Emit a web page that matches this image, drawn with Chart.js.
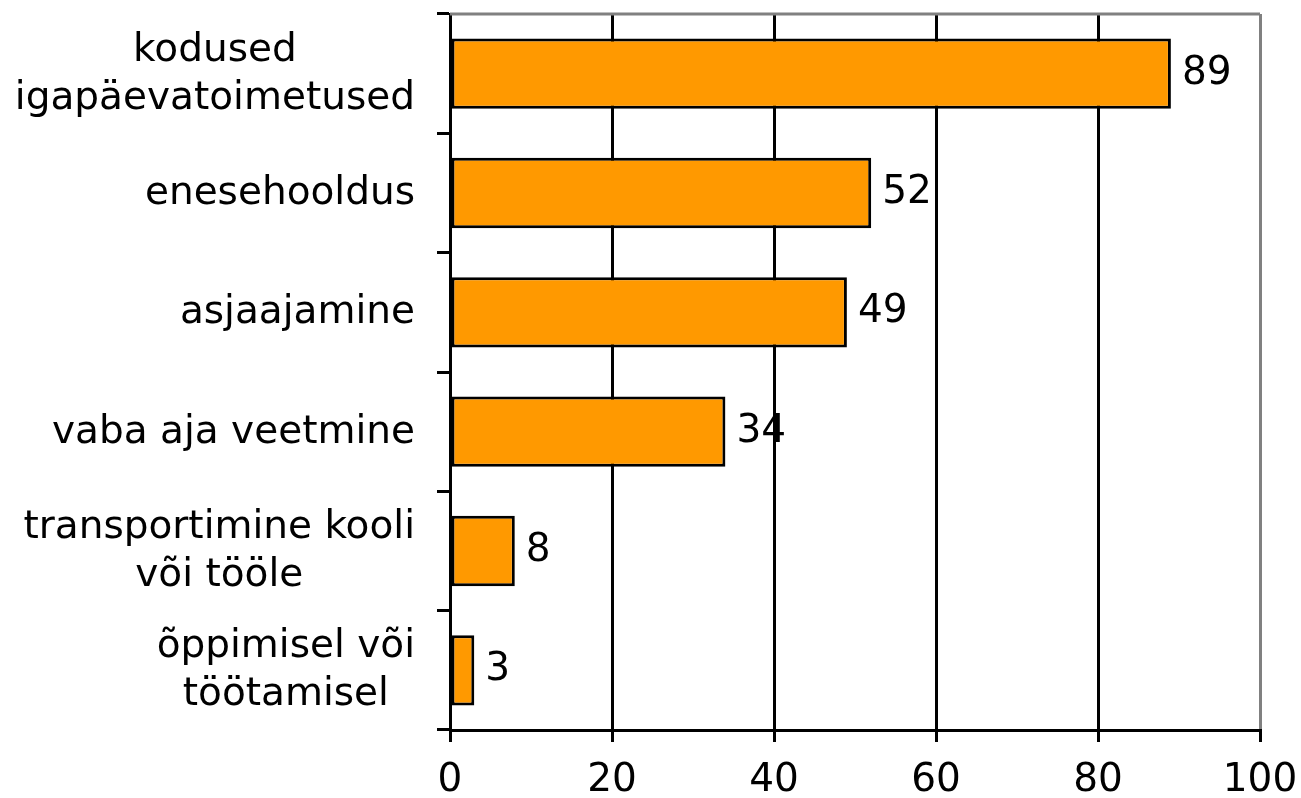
<!DOCTYPE html>
<html>
<head>
<meta charset="utf-8">
<script src="https://cdn.jsdelivr.net/npm/chart.js@4.4.1/dist/chart.umd.min.js"></script>
<style>
html, body { margin: 0; padding: 0; background: #fff; }
</style>
</head>
<body>
<canvas id="barChart" width="1301" height="798"></canvas>
<script>
// kategooriad (ülevalt alla)
var categories = [
    ["kodused", "igapäevatoimetused"],
    ["enesehooldus"],
    ["asjaajamine"],
    ["vaba aja veetmine"],
    ["transportimine kooli", "või tööle"],
    ["õppimisel või", "töötamisel"]
];
// väärtused
var values = [89, 52, 49, 34, 8, 3];
// x-telje jaotised
var xTicks = [0, 20, 40, 60, 80, 100];

var FONT = '39px "DejaVu Sans", Verdana, sans-serif';

// kategooriate sildid: plokk paremale, read keskele
var categoryLabels = {
    id: 'categoryLabels',
    afterDraw: function(chart) {
        var c = chart.ctx;
        var yScale = chart.scales.y;
        var right = chart.chartArea.left - 35;
        var lineH = 48;
        c.save();
        c.font = FONT;
        c.fillStyle = '#000';
        c.textAlign = 'center';
        c.textBaseline = 'middle';
        chart.data.labels.forEach(function(lines, i) {
            var w = 0;
            lines.forEach(function(l) { w = Math.max(w, c.measureText(l).width); });
            var cx = right - w / 2;
            var cy = yScale.getPixelForValue(i) + 1;
            var y0 = cy - (lines.length - 1) * lineH / 2;
            lines.forEach(function(l, k) { c.fillText(l, cx, y0 + k * lineH); });
        });
        c.restore();
    }
};

// väärtused tulpade otsas + hall raam üleval
var valueLabels = {
    id: 'valueLabels',
    beforeDatasetsDraw: function(chart) {
        var a = chart.chartArea;
        var c = chart.ctx;
        c.save();
        c.strokeStyle = '#808080';
        c.lineWidth = 3;
        c.beginPath();
        c.moveTo(a.left, a.top);
        c.lineTo(a.right, a.top);
        c.stroke();
        c.restore();
    },
    afterDatasetsDraw: function(chart) {
        var c = chart.ctx;
        var meta = chart.getDatasetMeta(0);
        c.save();
        c.font = FONT;
        c.fillStyle = '#000';
        c.textAlign = 'left';
        c.textBaseline = 'middle';
        meta.data.forEach(function(bar, i) {
            c.fillText(String(chart.data.datasets[0].data[i]), bar.x + 11, bar.y);
        });
        c.restore();
    }
};

var ctx = document.getElementById("barChart").getContext('2d');
var barChart = new Chart(ctx, {
    type: 'bar',
    data: {
        labels: categories,
        datasets: [
            {
                data: values,
                backgroundColor: "#FF9900",
                borderColor: "#000000",
                borderWidth: 3,
                borderSkipped: false,
                categoryPercentage: 1,
                barPercentage: 0.59
            }
        ]
    },
    plugins: [categoryLabels, valueLabels],
    options: {
        indexAxis: 'y',
        responsive: false,
        animation: false,
        layout: {
            padding: { top: 14, right: 41, bottom: 0, left: 0 }
        },
        plugins: {
            legend: { display: false },
            tooltip: { enabled: false }
        },
        scales: {
            x: {
                min: xTicks[0],
                max: xTicks[xTicks.length - 1],
                afterBuildTicks: function(scale) {
                    scale.ticks = xTicks.map(function(v) { return { value: v }; });
                },
                afterFit: function(scale) {
                    scale.height = 68;
                    scale.paddingLeft = 0;
                    scale.paddingRight = 0;
                },
                border: { display: true, color: '#000', width: 3 },
                grid: {
                    color: function(c) { return c.tick && c.tick.value === 100 ? '#808080' : '#000'; },
                    lineWidth: 3,
                    tickColor: '#000',
                    tickLength: 12
                },
                ticks: {
                    color: '#000',
                    padding: 15,
                    maxRotation: 0,
                    font: { family: '"DejaVu Sans", Verdana, sans-serif', size: 39 }
                }
            },
            y: {
                type: 'category',
                offset: true,
                afterFit: function(scale) {
                    scale.width = 450;
                    scale.paddingTop = 0;
                    scale.paddingBottom = 0;
                },
                border: { display: true, color: '#000', width: 3 },
                grid: {
                    offset: true,
                    drawOnChartArea: false,
                    color: '#000',
                    lineWidth: 3,
                    tickLength: 13
                },
                ticks: { display: false }
            }
        }
    }
});
</script>
</body>
</html>
